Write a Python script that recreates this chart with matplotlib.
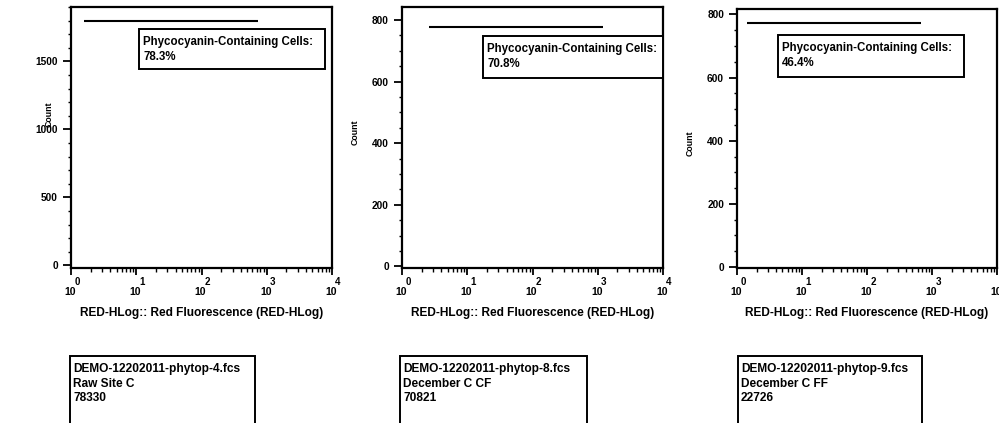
import matplotlib
matplotlib.use("Agg")
import matplotlib.pyplot as plt
from matplotlib.patches import Rectangle
from matplotlib.ticker import FixedLocator, NullFormatter, AutoMinorLocator, LogLocator

plt.rcParams['font.family'] = ['Liberation Sans', 'DejaVu Sans']
plt.rcParams['font.weight'] = 'bold'

# --- data -------------------------------------------------------------
x_ticks = [1, 10, 100, 1000, 10000]
x_tick_base = "10"
x_tick_exponents = ["0", "1", "2", "3", "4"]
x_label = "RED-HLog:: Red Fluorescence (RED-HLog)"
y_label = "Count"

y_ticks_1 = [0, 500, 1000, 1500]
y_ticks_2 = [0, 200, 400, 600, 800]
y_ticks_3 = [0, 200, 400, 600, 800]
y_max = [1900, 842, 817]
y_min = [-20, -5, -3]

# marker (gate) bars: start, end on the fluorescence axis, and count level
gate_start = [1.58, 2.6, 1.42]
gate_end = [725, 1200, 680]
gate_level = [1800, 778, 773]

gate_name = "Phycocyanin-Containing Cells:"
gate_percent = ["78.3%", "70.8%", "46.4%"]

file_names = ["DEMO-12202011-phytop-4.fcs", "DEMO-12202011-phytop-8.fcs", "DEMO-12202011-phytop-9.fcs"]
sample_names = ["Raw Site C", "December C CF", "December C FF"]
event_counts = ["78330", "70821", "22726"]

# --- layout (pixels) --------------------------------------------------
W, H = 999, 423
fig = plt.figure(figsize=(W / 100, H / 100), dpi=100)
PT = 72 / 100  # points per pixel

def px_rect(l, t, r, b):
    return [l / W, 1 - b / H, (r - l) / W, (b - t) / H]

axes_px = [(71, 7, 332, 268), (402, 7, 663, 268), (737, 9, 997, 268)]
ylab_pos = [(49, 114), (355, 132), (690, 143)]
gate_box_px = [(139, 29, 325, 69), (483, 36, 663, 78), (778, 35, 964, 77)]
file_box_px = [(70, 356, 255, 430), (400, 356, 587, 430), (738, 356, 922, 430)]
y_tick_sets = [y_ticks_1, y_ticks_2, y_ticks_3]
minor_div = [5, 4, 4]

for i in range(3):
    ax = fig.add_axes(px_rect(*axes_px[i]))
    ax.set_xscale('log')
    ax.set_xlim(x_ticks[0], x_ticks[-1])
    ax.set_ylim(y_min[i], y_max[i])

    # gate marker bar
    ax.hlines(gate_level[i], gate_start[i], gate_end[i], color='black', lw=1.5)

    ax.xaxis.set_major_locator(FixedLocator(x_ticks))
    ax.xaxis.set_major_formatter(NullFormatter())
    ax.xaxis.set_minor_locator(LogLocator(base=10, subs=range(2, 10), numticks=20))
    ax.xaxis.set_minor_formatter(NullFormatter())
    ax.yaxis.set_major_locator(FixedLocator(y_tick_sets[i]))
    ax.yaxis.set_minor_locator(AutoMinorLocator(minor_div[i]))

    ax.tick_params(axis='y', which='major', length=8 * PT, width=1.3,
                   labelsize=7.3, pad=5 * PT, direction='out')
    ax.tick_params(axis='x', which='major', length=7 * PT, width=1.3, direction='out')
    ax.tick_params(which='minor', length=3.5 * PT, width=1.0, direction='out')
    for sp in ax.spines.values():
        sp.set_linewidth(1.6)
    for lab in ax.get_yticklabels():
        lab.set_fontweight('bold')

    # decade labels: base with a raised exponent
    for t, e in zip(x_ticks, x_tick_exponents):
        ax.annotate(x_tick_base, xy=(t, 0), xycoords=('data', 'axes fraction'),
                    xytext=(-1 * PT, -24 * PT), textcoords='offset points',
                    ha='center', va='center', fontsize=7.5, fontweight='bold',
                    annotation_clip=False)
        ax.annotate(e, xy=(t, 0), xycoords=('data', 'axes fraction'),
                    xytext=(6 * PT, -14 * PT), textcoords='offset points',
                    ha='center', va='center', fontsize=7, fontweight='bold',
                    annotation_clip=False)

    l, t, r, b = axes_px[i]
    fig.text((l + r) / 2 / W, 1 - 313 / H, x_label, ha='center', va='center',
             fontsize=8.6, fontweight='bold')
    fig.text(ylab_pos[i][0] / W, 1 - ylab_pos[i][1] / H, y_label, ha='center', va='center',
             rotation=90, fontsize=6.3, fontweight='bold')

    # gate statistics box
    gl, gt, gr, gb = gate_box_px[i]
    fig.add_artist(Rectangle((gl / W, 1 - gb / H), (gr - gl) / W, (gb - gt) / H,
                             transform=fig.transFigure, fill=True, facecolor='white',
                             edgecolor='black', lw=1.4))
    fig.text((gl + 4) / W, 1 - (gt + 7) / H, gate_name + "\n" + gate_percent[i],
             ha='left', va='top', fontsize=8.3, fontweight='bold', linespacing=1.35)

    # sample info box
    fl, ft, fr, fb = file_box_px[i]
    fig.add_artist(Rectangle((fl / W, 1 - fb / H), (fr - fl) / W, (fb - ft) / H,
                             transform=fig.transFigure, fill=False,
                             edgecolor='black', lw=1.4))
    fig.text((fl + 3) / W, 1 - (ft + 7) / H,
             file_names[i] + "\n" + sample_names[i] + "\n" + event_counts[i],
             ha='left', va='top', fontsize=8.6, fontweight='bold', linespacing=1.3)

fig.savefig("out.png", dpi=100)
